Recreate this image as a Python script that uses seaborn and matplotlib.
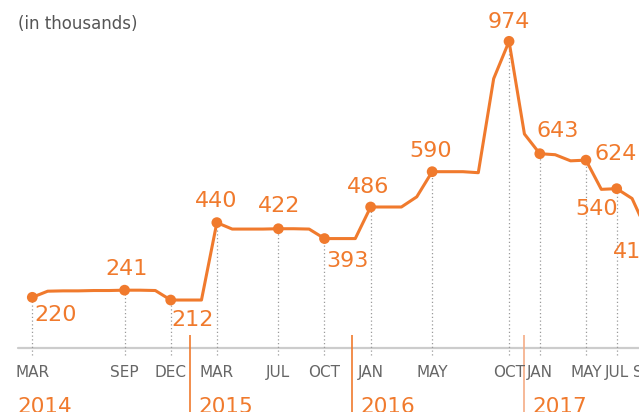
import matplotlib
matplotlib.use("Agg")
import matplotlib.pyplot as plt
import seaborn as sns
import pandas as pd

# monthly-ish series (in thousands)
values = [220, 238, 239, 239, 240, 240, 241, 241, 240, 212,
          212, 212, 440, 421, 421, 421, 422, 422, 421, 393,
          393, 393, 486, 486, 486, 516, 590, 590, 590, 587,
          864, 974, 701, 643, 640, 622, 624, 538, 540, 511,
          412]

# points that get a dot, a label and a month tick
label_idx = [0, 6, 9, 12, 16, 19, 22, 26, 31, 33, 36, 38, 40]
tick_text = ["MAR", "SEP", "DEC", "MAR", "JUL", "OCT", "JAN", "MAY",
             "OCT", "JAN", "MAY", "JUL", "SEP"]
label_text = ["220", "241", "212", "440", "422", "393", "486", "590",
              "974", "643", "624", "540", "412"]
# label offsets in pixels (dx, dy)
label_off = [(23, -18), (2, 21), (22, -20), (-1, 22), (1, 23), (23, -22),
             (-3, 20), (-2, 21), (0, 19), (18, 23), (30, 6), (-20, -20),
             (-13, -20)]

years = ["2014", "2015", "2016", "2017"]
year_pos = [-1.0, 10.77, 21.32, 32.52]
sep_pos = [10.25, 20.8, 32.0]
sep_col = ["#f07a2d", "#f07a2d", "#f5ad86"]

ORANGE = "#f07a2d"

sns.set_style("white")
plt.rcParams["font.family"] = ["Liberation Sans Narrow", "DejaVu Sans"]

df = pd.DataFrame({"idx": range(len(values)), "value": values})
pts = df.iloc[label_idx].reset_index(drop=True)

fig = plt.figure(figsize=(6.39, 4.12), dpi=100)
ax = fig.add_axes([0, 0, 1, 1])

# baseline + dotted drop lines
ax.axhline(70, xmin=18 / 639, xmax=1, color="#cccccc", lw=1.6, zorder=1)
ax.vlines(pts["idx"], 50, pts["value"], colors="#9a9a9a",
          linestyles=(0, (1, 2)), lw=0.9, zorder=1)

sns.lineplot(data=df, x="idx", y="value", color=ORANGE, lw=2.2, ax=ax,
             zorder=2)
sns.scatterplot(data=pts, x="idx", y="value", color=ORANGE, s=60,
                edgecolor="none", ax=ax, zorder=3)

for (i, v), txt, (dx, dy) in zip(pts[["idx", "value"]].values, label_text,
                                 label_off):
    ax.annotate(txt, (i, v), xytext=(dx, dy), textcoords="offset pixels",
                ha="center", va="center", fontsize=16, color=ORANGE,
                annotation_clip=False)

for i, t in zip(pts["idx"], tick_text):
    ax.text(i, 0, t, ha="center", va="center", fontsize=11, color="#666666")

# year separators and labels
for x, c in zip(sep_pos, sep_col):
    ax.vlines(x, -130, 109, color=c, lw=1.2)
for x, y in zip(year_pos, years):
    ax.text(x, -74, y, ha="left", va="top", fontsize=15.5, color=ORANGE)

fig.text(18 / 639, 1 - 24 / 412, "(in thousands)", ha="left", va="center",
         fontsize=12, color="#555555")

ax.set_xlim(-2.1, 39.45)
ax.set_ylim(-117.8, 1095.7)
ax.axis("off")
if ax.get_legend():
    ax.get_legend().remove()

fig.savefig("out.png", dpi=100)
